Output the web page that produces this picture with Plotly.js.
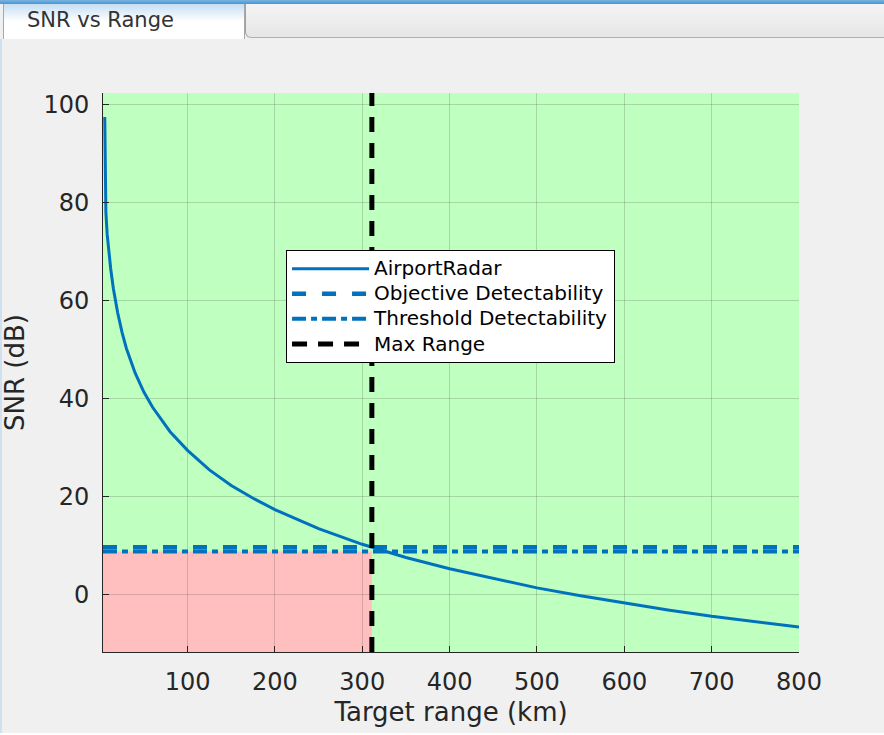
<!DOCTYPE html>
<html><head><meta charset="utf-8">
<script src="https://cdn.plot.ly/plotly-3.0.1.min.js"></script>
<style>
html,body{margin:0;padding:0;background:#f0f0f0;width:884px;height:735px;overflow:hidden;font-family:"DejaVu Sans",sans-serif;}
#chart{position:absolute;left:0;top:0;width:884px;height:735px;}
#topbar{position:absolute;left:0;top:0;width:884px;height:4px;background:linear-gradient(#7fb3dc,#3d97dd);z-index:5;}
#tab{position:absolute;left:3px;top:4px;width:242px;height:35px;background:linear-gradient(#c6def3,#ffffff 50%);border-left:1px solid #a8a8a8;border-right:1px solid #a8a8a8;box-sizing:border-box;font-size:21px;color:#333;padding-left:23px;line-height:32px;z-index:5;}
#rest{position:absolute;left:245px;top:4px;width:639px;height:34px;background:linear-gradient(#f4f4f4,#e6e6e6);border-left:1px solid #a0a0a0;border-bottom:1px solid #b0b0b0;border-bottom-left-radius:6px;box-sizing:border-box;z-index:5;}
#leftedge{position:absolute;left:0;top:39px;width:2px;height:696px;background:#cfe0ee;z-index:5;}
#bottomedge{position:absolute;left:0;top:733px;width:884px;height:2px;background:#ffffff;z-index:5;}
.legendtext{font-size:20px !important;}
</style></head>
<body>
<div id="chart"></div>
<div id="topbar"></div>
<div id="tab">SNR vs Range</div>
<div id="rest"></div>
<div id="leftedge"></div>
<div id="bottomedge"></div>
<script>
// Data
const rangeKm = [5.2, 5.8, 6.5, 8, 10, 12, 15, 20, 25, 30, 40, 50, 60, 80, 100, 125, 150, 175, 200, 250, 300, 350, 400, 450, 500, 550, 600, 650, 700, 750, 800];
const snrDb   = [97.5, 86, 78, 73.5, 69.5, 66.5, 62.5, 57.5, 53.5, 50.2, 45.2, 41.3, 38.2, 33.2, 29.4, 25.4, 22.2, 19.6, 17.3, 13.4, 10.2, 7.5, 5.2, 3.2, 1.3, -0.3, -1.8, -3.2, -4.5, -5.6, -6.7];
const objectiveSnr = 9.6;
const thresholdSnr = 8.75;
const maxRangeKm = 311;
const xLimits = [3.2, 800];
const yLimits = [-11.8, 102.4];
const xTicks = [100, 200, 300, 400, 500, 600, 700, 800];
const yTicks = [0, 20, 40, 60, 80, 100];
const seriesNames = ["AirportRadar", "Objective Detectability", "Threshold Detectability", "Max Range"];

const blue = "#0072bd";
const font = "DejaVu Sans";

const traces = [
  {x: rangeKm, y: snrDb, mode: "lines", name: seriesNames[0], line: {color: blue, width: 3}},
  {x: xLimits, y: [objectiveSnr, objectiveSnr], mode: "lines", name: seriesNames[1], line: {color: blue, width: 4.5, dash: "14px,16px"}},
  {x: xLimits, y: [thresholdSnr, thresholdSnr], mode: "lines", name: seriesNames[2], line: {color: blue, width: 4, dash: "14px,5px,6px,5px"}},
  {x: [maxRangeKm, maxRangeKm], y: yLimits, mode: "lines", name: seriesNames[3], line: {color: "#000000", width: 5, dash: "15px,11px"}}
];

const axisCommon = {
  showline: true, linecolor: "#262626", linewidth: 1,
  ticks: "inside", ticklen: 6, tickcolor: "#262626", tickwidth: 1,
  showgrid: true, gridcolor: "rgba(38,38,38,0.18)", gridwidth: 1,
  zeroline: false, mirror: false,
  tickfont: {family: font, size: 24, color: "#262626"}
};

const layout = {
  width: 884, height: 735,
  margin: {l: 103, r: 85, t: 93, b: 83},
  paper_bgcolor: "#f0f0f0",
  plot_bgcolor: "#bfffbf",
  showlegend: true,
  legend: {
    x: 0.263, y: 0.719, xanchor: "left", yanchor: "top",
    bgcolor: "#ffffff", bordercolor: "#000000", borderwidth: 1,
    font: {family: font, size: 17, color: "#000000"},
    itemwidth: 77, tracegroupgap: 0
  },
  xaxis: Object.assign({}, axisCommon, {
    range: xLimits, tickmode: "array", tickvals: xTicks, ticktext: xTicks.map(String),
    ticklabelstandoff: 8,
    title: {text: "Target range (km)", font: {family: font, size: 26, color: "#262626"}, standoff: 8}
  }),
  yaxis: Object.assign({}, axisCommon, {
    range: yLimits, tickmode: "array", tickvals: yTicks, ticktext: yTicks.map(String),
    ticklabelstandoff: 8,
    title: {text: "SNR (dB)", font: {family: font, size: 26, color: "#262626"}, standoff: 12}
  }),
  shapes: [
    {type: "rect", layer: "below", xref: "x", yref: "y",
     x0: xLimits[0], x1: maxRangeKm, y0: yLimits[0], y1: thresholdSnr,
     fillcolor: "#ffbfbf", line: {width: 0}}
  ]
};

Plotly.newPlot("chart", traces, layout, {displayModeBar: false, staticPlot: true});
</script>
</body></html>
